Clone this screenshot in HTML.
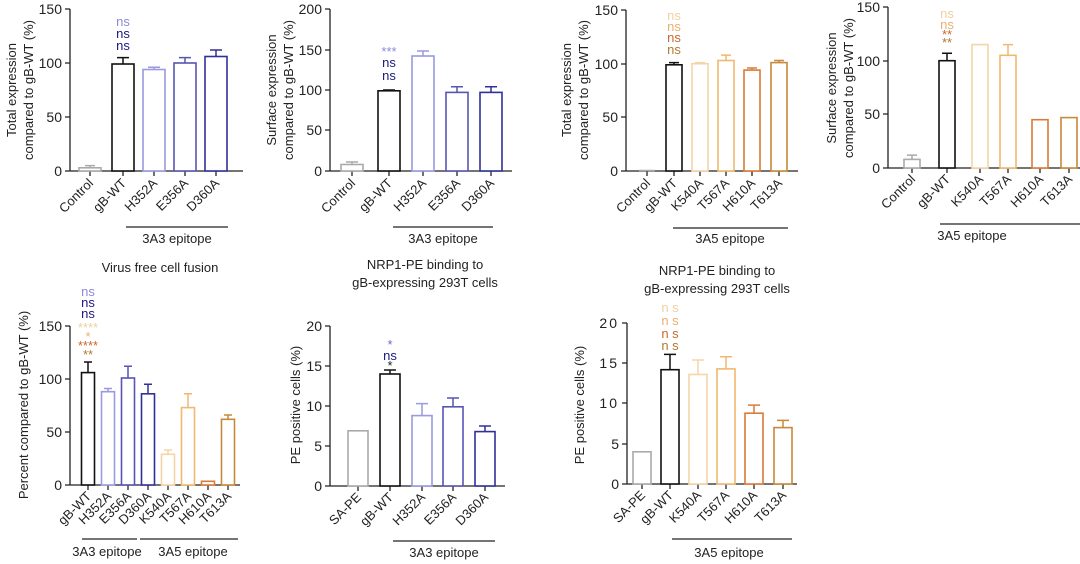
<!DOCTYPE html>
<html><head><meta charset="utf-8"><style>
body{margin:0;background:#fff}
svg{display:block;font-family:"Liberation Sans",sans-serif}
.ax{stroke:#222;stroke-width:1.3;fill:none}
rect{fill:#fff;stroke-width:1.6}
.xl{font-size:13px;text-anchor:end;fill:#222}
.yt{font-size:14px;text-anchor:end;fill:#222}
.yl{font-size:13px;text-anchor:middle;fill:#222}
.an{font-size:13px;text-anchor:middle}
.tt{font-size:13px;text-anchor:middle;fill:#222}
</style></head><body>
<svg width="1080" height="564" viewBox="0 0 1080 564">
<!-- Panel 1 -->
<g>
<text class="yl" transform="translate(16,90) rotate(-90)">Total expression</text>
<text class="yl" transform="translate(33,90) rotate(-90)">compared to gB-WT (%)</text>
<path class="ax" d="M70,9V171H243M65,9H70M65,63H70M65,117H70M65,171H70M90,171v5M123,171v5M154,171v5M185,171v5M216,171v5"/>
<text class="yt" x="62" y="14">150</text><text class="yt" x="62" y="68">100</text><text class="yt" x="62" y="122">50</text><text class="yt" x="62" y="176">0</text>
<g stroke="#aaa" stroke-width="1.5"><rect x="79" y="167.8" width="22" height="3.2"/><path d="M90,167.8V165.6M85,165.6h10"/></g>
<g stroke="#111" stroke-width="1.5"><rect x="112" y="64" width="22" height="107"/><path d="M123,64V57.6M117,57.6h12"/></g>
<g stroke="#9a9ae0" stroke-width="1.5"><rect x="143" y="69.5" width="22" height="101.5"/><path d="M154,69.5V67.3M148,67.3h12"/></g>
<g stroke="#5555b5" stroke-width="1.5"><rect x="174" y="63" width="22" height="108"/><path d="M185,63V57.6M179,57.6h12"/></g>
<g stroke="#30309a" stroke-width="1.5"><rect x="205" y="56.5" width="22" height="114.5"/><path d="M216,56.5V50M210,50h12"/></g>
<text class="an" x="123" y="26" fill="#8a8ad8">ns</text><text class="an" x="123" y="38" fill="#1a1a80">ns</text><text class="an" x="123" y="50" fill="#1a1a80">ns</text>
<text class="xl" transform="translate(94,184) rotate(-45)">Control</text>
<text class="xl" transform="translate(127,184) rotate(-45)">gB-WT</text>
<text class="xl" transform="translate(158,184) rotate(-45)">H352A</text>
<text class="xl" transform="translate(189,184) rotate(-45)">E356A</text>
<text class="xl" transform="translate(220,184) rotate(-45)">D360A</text>
<path class="ax" d="M126,227H228"/><text class="tt" x="177" y="243" fill="#3535a0">3A3 epitope</text>
</g>
<!-- Panel 2 -->
<g>
<text class="yl" transform="translate(276,90) rotate(-90)">Surface expression</text>
<text class="yl" transform="translate(293,90) rotate(-90)">compared to gB-WT (%)</text>
<path class="ax" d="M330,9V171H512M325,9H330M325,50H330M325,90H330M325,130H330M325,171H330M352,171v5M389,171v5M423,171v5M457,171v5M491,171v5"/>
<text class="yt" x="322" y="14">200</text><text class="yt" x="322" y="55">150</text><text class="yt" x="322" y="95">100</text><text class="yt" x="322" y="135">50</text><text class="yt" x="322" y="176">0</text>
<g stroke="#aaa" stroke-width="1.5"><rect x="341" y="164.5" width="22" height="6.5"/><path d="M352,164.5V162M346,162h12"/></g>
<g stroke="#111" stroke-width="1.5"><rect x="378" y="90.8" width="22" height="80.2"/><path d="M389,90.8V90M383,90h12"/></g>
<g stroke="#9a9ae0" stroke-width="1.5"><rect x="412" y="56" width="22" height="115"/><path d="M423,56V51M417,51h12"/></g>
<g stroke="#5555b5" stroke-width="1.5"><rect x="446" y="92.4" width="22" height="78.6"/><path d="M457,92.4V86.8M451,86.8h12"/></g>
<g stroke="#30309a" stroke-width="1.5"><rect x="480" y="92.4" width="22" height="78.6"/><path d="M491,92.4V86.8M485,86.8h12"/></g>
<text class="an" x="389" y="56" fill="#8a8ad8" font-size="10">***</text><text class="an" x="389" y="67" fill="#1a1a80">ns</text><text class="an" x="389" y="80" fill="#1a1a80">ns</text>
<text class="xl" transform="translate(356,184) rotate(-45)">Control</text>
<text class="xl" transform="translate(393,184) rotate(-45)">gB-WT</text>
<text class="xl" transform="translate(427,184) rotate(-45)">H352A</text>
<text class="xl" transform="translate(461,184) rotate(-45)">E356A</text>
<text class="xl" transform="translate(495,184) rotate(-45)">D360A</text>
<path class="ax" d="M393,227H493"/><text class="tt" x="443" y="243" fill="#3535a0">3A3 epitope</text>
</g>
<!-- Panel 3 -->
<g>
<text class="yl" transform="translate(571,90) rotate(-90)">Total expression</text>
<text class="yl" transform="translate(588,90) rotate(-90)">compared to gB-WT (%)</text>
<path class="ax" d="M626,10V171H798M621,10H626M621,64H626M621,117H626M621,171H626M647,171v5M674,171v5M700,171v5M726,171v5M752,171v5M779,171v5"/>
<text class="yt" x="618" y="15">150</text><text class="yt" x="618" y="69">100</text><text class="yt" x="618" y="122">50</text><text class="yt" x="618" y="176">0</text>
<g stroke="#aaa" stroke-width="1.5"><path d="M639,170.5h16"/></g>
<g stroke="#111" stroke-width="1.5"><rect x="666" y="64.8" width="16" height="106.2"/><path d="M674,64.8V62.6M669,62.6h10"/></g>
<g stroke="#f5d5a8" stroke-width="1.5"><rect x="692" y="63.7" width="16" height="107.3"/><path d="M700,63.7V62.6M695,62.6h10"/></g>
<g stroke="#f0b870" stroke-width="1.5"><rect x="718" y="60.5" width="16" height="110.5"/><path d="M726,60.5V55.1M721,55.1h10"/></g>
<g stroke="#d97b3a" stroke-width="1.5"><rect x="744" y="70.1" width="16" height="100.9"/><path d="M752,70.1V68M747,68h10"/></g>
<g stroke="#c8893a" stroke-width="1.5"><rect x="771" y="62.6" width="16" height="108.4"/><path d="M779,62.6V60.5M774,60.5h10"/></g>
<text class="an" x="674" y="20" fill="#f2cfa0">ns</text><text class="an" x="674" y="31" fill="#e8b070">ns</text><text class="an" x="674" y="42" fill="#c86a30">ns</text><text class="an" x="674" y="54" fill="#b07a30">ns</text>
<text class="xl" transform="translate(651,184) rotate(-45)">Control</text>
<text class="xl" transform="translate(678,184) rotate(-45)">gB-WT</text>
<text class="xl" transform="translate(704,184) rotate(-45)">K540A</text>
<text class="xl" transform="translate(730,184) rotate(-45)">T567A</text>
<text class="xl" transform="translate(756,184) rotate(-45)">H610A</text>
<text class="xl" transform="translate(783,184) rotate(-45)">T613A</text>
<path class="ax" d="M673,228H788"/><text class="tt" x="730" y="243" fill="#e8b040">3A5 epitope</text>
</g>
<!-- Panel 4 -->
<g>
<text class="yl" transform="translate(836,88) rotate(-90)">Surface expression</text>
<text class="yl" transform="translate(853,88) rotate(-90)">compared to gB-WT (%)</text>
<path class="ax" d="M888,7V168H1080M883,7H888M883,61H888M883,114H888M883,168H888M912,168v5M947,168v5M980,168v5M1008,168v5M1040,168v5M1069,168v5"/>
<text class="yt" x="880" y="12">150</text><text class="yt" x="880" y="66">100</text><text class="yt" x="880" y="119">50</text><text class="yt" x="880" y="173">0</text>
<g stroke="#aaa" stroke-width="1.5"><rect x="904" y="159.4" width="16" height="8.6"/><path d="M912,159.4V155.1M907,155.1h10"/></g>
<g stroke="#111" stroke-width="1.5"><rect x="939" y="60.7" width="16" height="107.3"/><path d="M947,60.7V53.2M942,53.2h10"/></g>
<g stroke="#f5d5a8" stroke-width="1.5"><rect x="972" y="44.6" width="16" height="123.4"/></g>
<g stroke="#f0b870" stroke-width="1.5"><rect x="1000" y="55.3" width="16" height="112.7"/><path d="M1008,55.3V44.6M1003,44.6h10"/></g>
<g stroke="#d97b3a" stroke-width="1.5"><rect x="1032" y="119.7" width="16" height="48.3"/></g>
<g stroke="#c8893a" stroke-width="1.5"><rect x="1061" y="117.6" width="16" height="50.4"/></g>
<text class="an" x="947" y="18" fill="#f2cfa0">ns</text><text class="an" x="947" y="29" fill="#e8b070">ns</text><text class="an" x="947" y="39" fill="#c86a30" font-size="10">**</text><text class="an" x="947" y="47" fill="#b07a30" font-size="10">**</text>
<text class="xl" transform="translate(916,180) rotate(-45)">Control</text>
<text class="xl" transform="translate(951,180) rotate(-45)">gB-WT</text>
<text class="xl" transform="translate(984,180) rotate(-45)">K540A</text>
<text class="xl" transform="translate(1012,180) rotate(-45)">T567A</text>
<text class="xl" transform="translate(1044,180) rotate(-45)">H610A</text>
<text class="xl" transform="translate(1073,180) rotate(-45)">T613A</text>
<path class="ax" d="M940,224H1080"/><text class="tt" x="972" y="240" fill="#e8b040">3A5 epitope</text>
</g>
<!-- Panel 5 -->
<g>
<text class="tt" x="160" y="272">Virus free cell fusion</text>
<text class="yl" transform="translate(28,405) rotate(-90)">Percent compared to gB-WT (%)</text>
<path class="ax" d="M70,326V485H240M65,326H70M65,379H70M65,432H70M65,485H70M88,485v5M108,485v5M128,485v5M148,485v5M168,485v5M188,485v5M208,485v5M228,485v5"/>
<text class="yt" x="62" y="331">150</text><text class="yt" x="62" y="384">100</text><text class="yt" x="62" y="437">50</text><text class="yt" x="62" y="490">0</text>
<g stroke="#111" stroke-width="1.5"><rect x="81.5" y="372.6" width="13" height="112.4"/><path d="M88,372.6V362M84,362h8"/></g>
<g stroke="#9a9ae0" stroke-width="1.5"><rect x="101.5" y="391.7" width="13" height="93.3"/><path d="M108,391.7V388.5M104,388.5h8"/></g>
<g stroke="#5555b5" stroke-width="1.5"><rect x="121.5" y="378" width="13" height="107"/><path d="M128,378V366.3M124,366.3h8"/></g>
<g stroke="#30309a" stroke-width="1.5"><rect x="141.5" y="393.8" width="13" height="91.2"/><path d="M148,393.8V384.3M144,384.3h8"/></g>
<g stroke="#f5d5a8" stroke-width="1.5"><rect x="161.5" y="454.3" width="13" height="30.7"/><path d="M168,454.3V450M164,450h8"/></g>
<g stroke="#f0b870" stroke-width="1.5"><rect x="181.5" y="407.6" width="13" height="77.4"/><path d="M188,407.6V393.8M184,393.8h8"/></g>
<g stroke="#d97b3a" stroke-width="1.5"><rect x="201.5" y="481.3" width="13" height="3.7"/></g>
<g stroke="#c8893a" stroke-width="1.5"><rect x="221.5" y="419.3" width="13" height="65.7"/><path d="M228,419.3V415M224,415h8"/></g>
<text class="an" x="88" y="296" fill="#8a8ad8">ns</text><text class="an" x="88" y="307" fill="#1a1a80">ns</text><text class="an" x="88" y="318" fill="#1a1a80">ns</text>
<text class="an" x="88" y="332" fill="#f2cfa0" font-size="9">****</text><text class="an" x="88" y="341" fill="#e8b070" font-size="9">*</text><text class="an" x="88" y="350" fill="#c86a30" font-size="9">****</text><text class="an" x="88" y="359" fill="#b07a30" font-size="9">**</text>
<text class="xl" transform="translate(92,497) rotate(-45)">gB-WT</text>
<text class="xl" transform="translate(112,497) rotate(-45)">H352A</text>
<text class="xl" transform="translate(132,497) rotate(-45)">E356A</text>
<text class="xl" transform="translate(152,497) rotate(-45)">D360A</text>
<text class="xl" transform="translate(172,497) rotate(-45)">K540A</text>
<text class="xl" transform="translate(192,497) rotate(-45)">T567A</text>
<text class="xl" transform="translate(212,497) rotate(-45)">H610A</text>
<text class="xl" transform="translate(232,497) rotate(-45)">T613A</text>
<path class="ax" d="M82,539H137M140,539H238"/>
<text class="tt" x="107" y="556" fill="#3535a0">3A3 epitope</text><text class="tt" x="193" y="556" fill="#e8b040">3A5 epitope</text>
</g>
<!-- Panel 6 -->
<g>
<text class="tt" x="425" y="269">NRP1-PE binding to</text><text class="tt" x="425" y="287">gB-expressing 293T cells</text>
<text class="yl" transform="translate(300,405) rotate(-90)">PE positive cells (%)</text>
<path class="ax" d="M330,326V486H505M325,326H330M325,366H330M325,406H330M325,446H330M325,486H330M358,486v5M390,486v5M422,486v5M453,486v5M485,486v5"/>
<text class="yt" x="322" y="331">20</text><text class="yt" x="322" y="371">15</text><text class="yt" x="322" y="411">10</text><text class="yt" x="322" y="451">5</text><text class="yt" x="322" y="491">0</text>
<g stroke="#aaa" stroke-width="1.5"><rect x="348" y="430.8" width="20" height="55.2"/></g>
<g stroke="#111" stroke-width="1.5"><rect x="380" y="374" width="20" height="112"/><path d="M390,374V370M384,370h12"/></g>
<g stroke="#9a9ae0" stroke-width="1.5"><rect x="412" y="415.6" width="20" height="70.4"/><path d="M422,415.6V403.6M416,403.6h12"/></g>
<g stroke="#5555b5" stroke-width="1.5"><rect x="443" y="406.8" width="20" height="79.2"/><path d="M453,406.8V398M447,398h12"/></g>
<g stroke="#30309a" stroke-width="1.5"><rect x="475" y="431.6" width="20" height="54.4"/><path d="M485,431.6V426M479,426h12"/></g>
<text class="an" x="390" y="349" fill="#6a6ad0" font-size="10">*</text><text class="an" x="390" y="360" fill="#1a1a80">ns</text><text class="an" x="390" y="370" fill="#222" font-size="10">*</text>
<text class="xl" transform="translate(362,498) rotate(-45)">SA-PE</text>
<text class="xl" transform="translate(394,498) rotate(-45)">gB-WT</text>
<text class="xl" transform="translate(426,498) rotate(-45)">H352A</text>
<text class="xl" transform="translate(457,498) rotate(-45)">E356A</text>
<text class="xl" transform="translate(489,498) rotate(-45)">D360A</text>
<path class="ax" d="M393,541H495"/><text class="tt" x="444" y="557" fill="#3535a0">3A3 epitope</text>
</g>
<!-- Panel 7 -->
<g>
<text class="tt" x="717" y="275">NRP1-PE binding to</text><text class="tt" x="717" y="293">gB-expressing 293T cells</text>
<text class="yl" transform="translate(584,405) rotate(-90)">PE positive cells (%)</text>
<path class="ax" d="M627,323V484H797M622,323H627M622,363H627M622,403H627M622,444H627M622,484H627M642,484v5M670,484v5M698,484v5M726,484v5M754,484v5M783,484v5"/>
<text class="yt" x="619" y="328" letter-spacing="2">20</text><text class="yt" x="619" y="368" letter-spacing="2">15</text><text class="yt" x="619" y="408" letter-spacing="2">10</text><text class="yt" x="619" y="449">5</text><text class="yt" x="619" y="489">0</text>
<g stroke="#aaa" stroke-width="1.5"><rect x="633" y="451.8" width="18" height="32.2"/></g>
<g stroke="#111" stroke-width="1.5"><rect x="661" y="369.7" width="18" height="114.3"/><path d="M670,369.7V354.4M664,354.4h12"/></g>
<g stroke="#f5d5a8" stroke-width="1.5"><rect x="689" y="374.5" width="18" height="109.5"/><path d="M698,374.5V360M692,360h12"/></g>
<g stroke="#f0b870" stroke-width="1.5"><rect x="717" y="368.9" width="18" height="115.1"/><path d="M726,368.9V356.8M720,356.8h12"/></g>
<g stroke="#d97b3a" stroke-width="1.5"><rect x="745" y="413.2" width="18" height="70.8"/><path d="M754,413.2V405.1M748,405.1h12"/></g>
<g stroke="#c8893a" stroke-width="1.5"><rect x="774" y="427.6" width="18" height="56.4"/><path d="M783,427.6V420.4M777,420.4h12"/></g>
<text class="an" x="670" y="312" fill="#f2cfa0">n s</text><text class="an" x="670" y="325" fill="#e8b070">n s</text><text class="an" x="670" y="338" fill="#c86a30">n s</text><text class="an" x="670" y="350" fill="#b07a30">n s</text>
<text class="xl" transform="translate(646,496) rotate(-45)">SA-PE</text>
<text class="xl" transform="translate(674,496) rotate(-45)">gB-WT</text>
<text class="xl" transform="translate(702,496) rotate(-45)">K540A</text>
<text class="xl" transform="translate(730,496) rotate(-45)">T567A</text>
<text class="xl" transform="translate(758,496) rotate(-45)">H610A</text>
<text class="xl" transform="translate(787,496) rotate(-45)">T613A</text>
<path class="ax" d="M672,539H792"/><text class="tt" x="729" y="557" fill="#e8b040">3A5 epitope</text>
</g>
</svg>
</body></html>
